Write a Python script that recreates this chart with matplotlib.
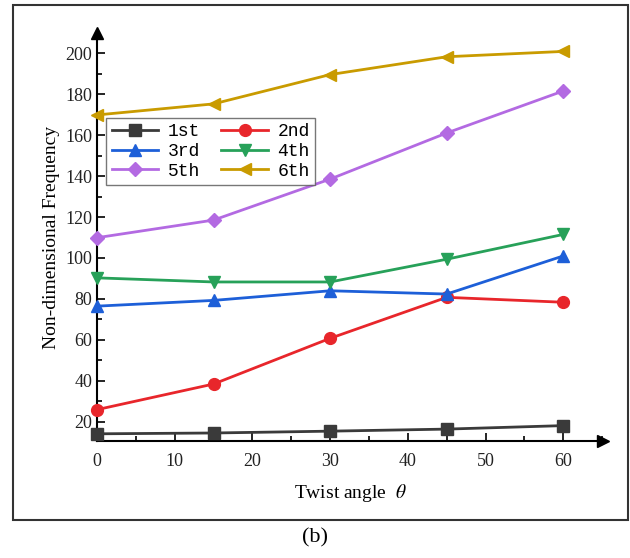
import matplotlib.pyplot as plt
from matplotlib.patches import Rectangle
from matplotlib.ticker import MultipleLocator

angles = [0, 15, 30, 45, 60]
f1 = [14.2, 14.6, 15.5, 16.5, 18.2]
f2 = [26.0, 38.5, 60.8, 80.8, 78.4]
f3 = [76.5, 79.3, 84.0, 82.4, 101.0]
f4 = [90.3, 88.3, 88.3, 99.4, 111.5]
f5 = [109.9, 118.5, 138.5, 161.0, 181.5]
f6 = [169.8, 175.2, 189.5, 198.2, 200.8]

labels = ["1st", "2nd", "3rd", "4th", "5th", "6th"]
series = [f1, f2, f3, f4, f5, f6]
colors = ["#3a3a3a", "#e8262b", "#1d5fd8", "#27a159", "#b36ae2", "#c99b00"]
markers = ["s", "o", "^", "v", "D", "<"]

plt.rcParams["font.family"] = ["Liberation Serif", "DejaVu Serif"]
plt.rcParams["mathtext.fontset"] = "stix"

fig = plt.figure(figsize=(6.3, 5.58), dpi=100)
ax = fig.add_axes([0.154, 0.2097, 0.803, 0.7312])

lines = []
for ys, lab, c, m in zip(series, labels, colors, markers):
    ms = 7 if m == "D" else 8.5
    ln, = ax.plot(angles, ys, color=c, marker=m, ms=ms, lw=2, label=lab,
                  clip_on=False, zorder=3)
    lines.append(ln)

ax.set_xlim(0, 65.1)
ax.set_ylim(10.7, 209.8)
ax.xaxis.set_major_locator(MultipleLocator(10))
ax.xaxis.set_minor_locator(MultipleLocator(5))
ax.yaxis.set_minor_locator(MultipleLocator(10))
ax.set_yticks(range(20, 201, 20))
ax.tick_params(which="major", direction="in", length=6, width=1.2,
               labelsize=13, colors="black", labelcolor="#222222")
ax.tick_params(which="minor", direction="in", length=3.5, width=1.2)
ax.tick_params(axis="x", pad=9)
for s in ["top", "right"]:
    ax.spines[s].set_visible(False)
for s in ["left", "bottom"]:
    ax.spines[s].set_linewidth(1.5)

# arrow heads on the axes
ax.plot(1, 0, ">k", ms=9, transform=ax.transAxes, clip_on=False)
ax.plot(0, 1, "^k", ms=9, transform=ax.transAxes, clip_on=False)

ax.set_xlabel(r"Twist angle  $\theta$", fontsize=14, labelpad=8)
ax.set_ylabel("Non-dimensional Frequency", fontsize=14, labelpad=4)

# row-major legend order: 1st 2nd / 3rd 4th / 5th 6th
order = [0, 2, 4, 1, 3, 5]
leg = ax.legend([lines[i] for i in order], [labels[i] for i in order],
                ncol=2, loc="upper left", bbox_to_anchor=(0.018, 0.792),
                borderaxespad=0, fancybox=False, edgecolor="#555555",
                prop={"family": "Liberation Mono", "size": 13},
                handlelength=2.6, columnspacing=1.2, labelspacing=0.15,
                handletextpad=0.5, borderpad=0.3)
leg.get_frame().set_linewidth(1.0)

# outer frame and panel label
fig.patches.append(Rectangle((13 / 630, 1 - 520 / 558), 615 / 630, 515 / 558,
                             transform=fig.transFigure, fill=False,
                             edgecolor="#333333", lw=1.5))
fig.text(0.5, 1 - 538 / 558, "(b)", ha="center", va="center", fontsize=16)

fig.savefig("out.png", dpi=100)
